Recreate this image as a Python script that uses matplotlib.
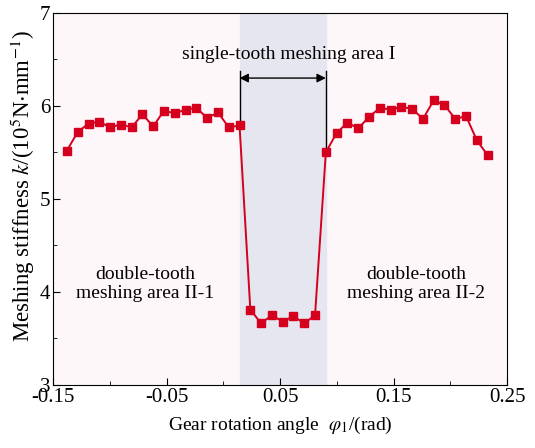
import matplotlib
matplotlib.use("Agg")
import matplotlib.pyplot as plt
from matplotlib.ticker import FixedLocator, MultipleLocator

plt.rcParams['font.family'] = ['Liberation Serif', 'DejaVu Serif']
plt.rcParams['mathtext.fontset'] = 'stix'

# gear rotation angle (rad)
angle_left = [-0.1377, -0.1282, -0.1187, -0.1092, -0.0997, -0.0902, -0.0807, -0.0712,
              -0.0617, -0.0522, -0.0427, -0.0332, -0.0237, -0.0142, -0.0047, 0.0048, 0.0143]
angle_mid = [0.0238, 0.0333, 0.0428, 0.0523, 0.0618, 0.0713, 0.0808]
angle_right = [0.0903, 0.0998, 0.1093, 0.1188, 0.1283, 0.1378, 0.1473, 0.1568,
               0.1663, 0.1758, 0.1853, 0.1948, 0.2043, 0.2138, 0.2233, 0.2328]

# meshing stiffness (10^5 N/mm)
k_left = [5.52, 5.72, 5.81, 5.83, 5.77, 5.80, 5.77, 5.91, 5.78,
          5.95, 5.92, 5.96, 5.98, 5.87, 5.93, 5.77, 5.79]
k_mid = [3.81, 3.66, 3.75, 3.68, 3.74, 3.66, 3.75]
k_right = [5.50, 5.71, 5.82, 5.76, 5.88, 5.98, 5.96, 5.99, 5.97, 5.86,
           6.06, 6.01, 5.86, 5.89, 5.63, 5.47]

angle = angle_left + angle_mid + angle_right
k = k_left + k_mid + k_right

single_start = angle_left[-1]
single_end = angle_right[0]

fig = plt.figure(figsize=(5.35, 4.48), dpi=100)
ax = fig.add_axes([0.099, 0.141, 0.849, 0.830])
ax.set_facecolor('#fdf7f9')

ax.axvspan(single_start, single_end, color='#e6e6f0', zorder=0)
ax.plot(angle, k, color='#d4001e', lw=1.4, marker='s', ms=6, zorder=3)

# arrow marking the single-tooth region
arrow_y = 6.30
ax.plot([single_start, single_start], [6.38, k_left[-1]], color='black', lw=1.0, zorder=2)
ax.plot([single_end, single_end], [6.38, k_right[0]], color='black', lw=1.0, zorder=2)
ax.annotate('', xy=(single_start, arrow_y), xytext=(single_end, arrow_y),
            arrowprops=dict(arrowstyle='<|-|>', color='black', lw=1.0,
                            shrinkA=0, shrinkB=0, mutation_scale=13))
ax.text(0.058, 6.55, 'single-tooth meshing area I',
        ha='center', va='center', fontsize=14)
ax.text(-0.069, 4.08, 'double-tooth\nmeshing area II-1', ha='center', va='center',
        fontsize=14, linespacing=1.15)
ax.text(0.170, 4.08, 'double-tooth\nmeshing area II-2', ha='center', va='center',
        fontsize=14, linespacing=1.15)

ax.set_xlim(-0.15, 0.25)
ax.set_ylim(3, 7)
ax.xaxis.set_major_locator(FixedLocator([-0.15, -0.05, 0.05, 0.15, 0.25]))
ax.xaxis.set_minor_locator(FixedLocator([-0.1, 0.0, 0.1, 0.2]))
ax.set_xticklabels(['-0.15', '-0.05', '0.05', '0.15', '0.25'])
ax.yaxis.set_major_locator(MultipleLocator(1))
ax.yaxis.set_minor_locator(MultipleLocator(0.5))
ax.tick_params(which='both', direction='in', labelsize=15)
ax.tick_params(which='major', length=5, pad=2)
ax.tick_params(which='minor', length=3)

ax.set_xlabel(r'Gear rotation angle  $\varphi_1$/(rad)', fontsize=14, labelpad=6)
ax.set_ylabel(r'Meshing stiffness $k$/(10$^5$N$\cdot$mm$^{-1}$)', fontsize=16.5)
ax.yaxis.set_label_coords(-0.035, 0.535)

fig.savefig('out.png', dpi=100)
